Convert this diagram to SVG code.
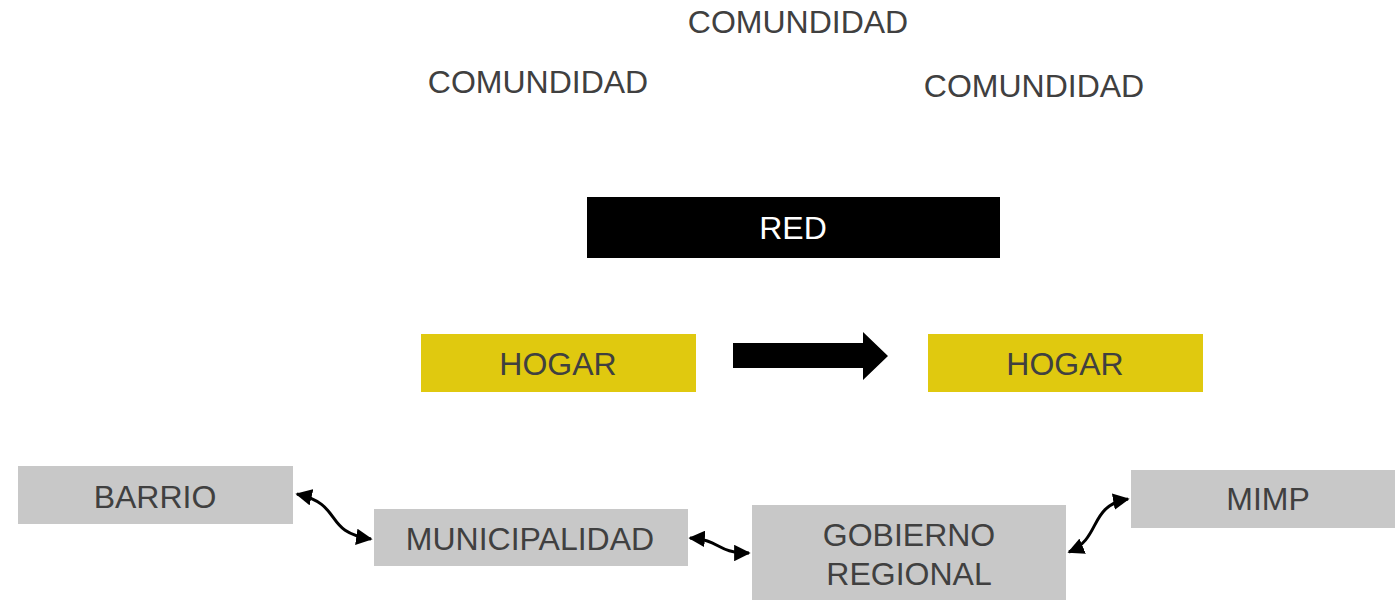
<svg xmlns="http://www.w3.org/2000/svg" width="1395" height="600" viewBox="0 0 1395 600">
<style>
text{font-family:"Liberation Sans",Arial,sans-serif;font-size:32px;fill:#404040;text-anchor:middle}
.g{fill:#c8c8c8}
.y{fill:#e0c90f}
.c{fill:none;stroke:#000;stroke-width:3}
</style>
<defs>
<marker id="ah" viewBox="0 0 10 10" refX="9" refY="5" markerWidth="5.5" markerHeight="5.5" markerUnits="strokeWidth" orient="auto-start-reverse">
<path d="M0,0 L10,5 L0,10 z" fill="#000"/>
</marker>
</defs>
<rect width="1395" height="600" fill="#fff"/>
<g id="com1"><text x="798" y="33">COMUNDIDAD</text></g>
<g id="com2"><text x="538" y="93">COMUNDIDAD</text></g>
<g id="com3"><text x="1034" y="97">COMUNDIDAD</text></g>
<g id="red"><rect x="587" y="197" width="413" height="61" fill="#000"/><text x="793" y="239" style="fill:#fff">RED</text></g>
<g id="hogar1"><rect class="y" x="421" y="334" width="275" height="58"/><text x="558" y="375">HOGAR</text></g>
<g id="hogar2"><rect class="y" x="928" y="334" width="275" height="58"/><text x="1065" y="375">HOGAR</text></g>
<g id="blockarrow"><path d="M733,343 L863,343 L863,332 L888,356 L863,380 L863,368 L733,368 z" fill="#000"/></g>
<g id="barrio"><rect class="g" x="18" y="466" width="275" height="58"/><text x="155" y="508">BARRIO</text></g>
<g id="muni"><rect class="g" x="374" y="509" width="314" height="57"/><text x="530" y="550">MUNICIPALIDAD</text></g>
<g id="gob"><rect class="g" x="752" y="505" width="314" height="95"/><text x="909" y="546">GOBIERNO</text><text x="909" y="585">REGIONAL</text></g>
<g id="mimp"><rect class="g" x="1131" y="470" width="264" height="58"/><text x="1268" y="510">MIMP</text></g>
<g id="connectors">
<path class="c" d="M297,494 C345,505 322,532 371,539" marker-start="url(#ah)" marker-end="url(#ah)"/>
<path class="c" d="M690,538 C722,540 715,553 749,553" marker-start="url(#ah)" marker-end="url(#ah)"/>
<path class="c" d="M1069,552 C1102,538 1088,506 1128,499" marker-start="url(#ah)" marker-end="url(#ah)"/>
</g>
</svg>
